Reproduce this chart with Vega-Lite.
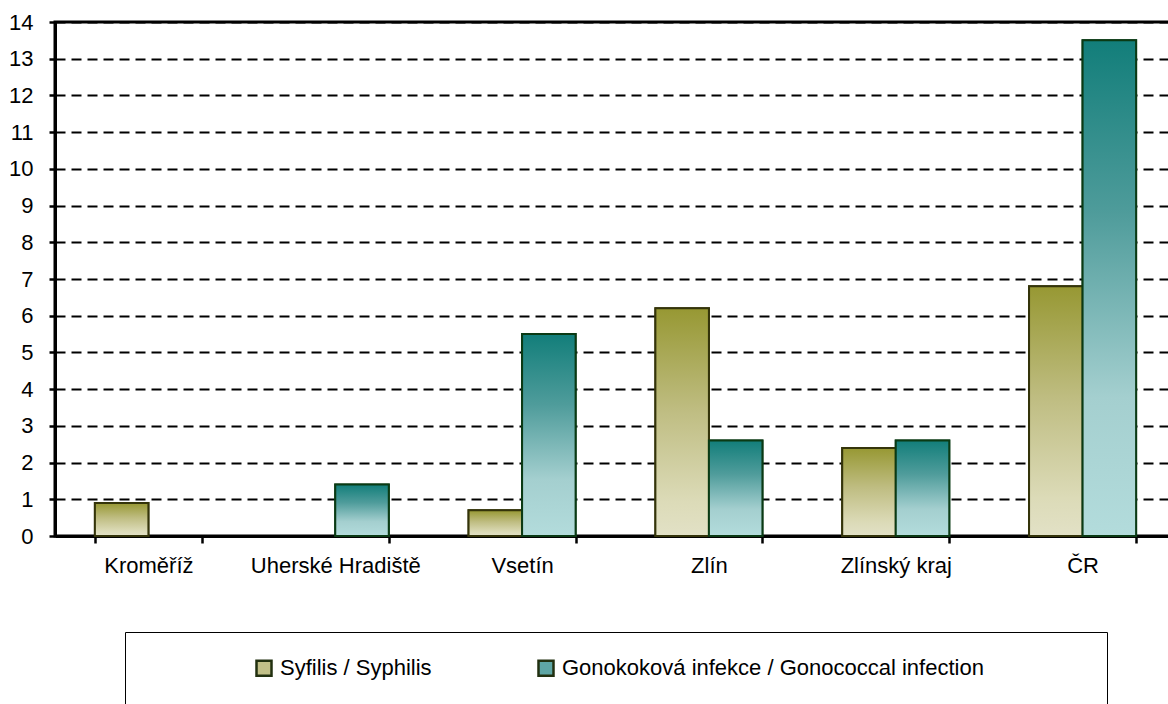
{
  "$schema": "https://vega.github.io/schema/vega-lite/v6.json",
  "autosize": {"type": "none"},
  "padding": {"left": 55, "top": 22, "right": 0, "bottom": 168},
  "width": 1121,
  "height": 514,
  "background": "white",
  "config": {
    "view": {"stroke": "black", "strokeWidth": 3},
    "font": "Liberation Sans",
    "axis": {"labelFont": "Liberation Sans", "labelColor": "black"}
  },
  "data": {
    "values": [
      {"region": "Kroměříž", "series": "Syfilis / Syphilis", "value": 0.9},
      {"region": "Kroměříž", "series": "Gonokoková infekce / Gonococcal infection", "value": 0},
      {"region": "Uherské Hradiště", "series": "Syfilis / Syphilis", "value": 0},
      {"region": "Uherské Hradiště", "series": "Gonokoková infekce / Gonococcal infection", "value": 1.4},
      {"region": "Vsetín", "series": "Syfilis / Syphilis", "value": 0.7},
      {"region": "Vsetín", "series": "Gonokoková infekce / Gonococcal infection", "value": 5.5},
      {"region": "Zlín", "series": "Syfilis / Syphilis", "value": 6.2},
      {"region": "Zlín", "series": "Gonokoková infekce / Gonococcal infection", "value": 2.6},
      {"region": "Zlínský kraj", "series": "Syfilis / Syphilis", "value": 2.4},
      {"region": "Zlínský kraj", "series": "Gonokoková infekce / Gonococcal infection", "value": 2.6},
      {"region": "ČR", "series": "Syfilis / Syphilis", "value": 6.8},
      {"region": "ČR", "series": "Gonokoková infekce / Gonococcal infection", "value": 13.5}
    ]
  },
  "transform": [{"filter": "datum.value > 0"}],
  "encoding": {
    "x": {
      "field": "region", "type": "nominal",
      "sort": ["Kroměříž", "Uherské Hradiště", "Vsetín", "Zlín", "Zlínský kraj", "ČR"],
      "scale": {"paddingInner": 0.427, "paddingOuter": 0.2135},
      "axis": {
        "title": null, "labelAngle": 0, "labelFontSize": 22, "labelPadding": 12,
        "tickBand": "extent", "tickSize": 7, "tickWidth": 2.5, "tickColor": "black",
        "domainColor": "black", "domainWidth": 3, "grid": false
      }
    },
    "xOffset": {
      "field": "series", "type": "nominal",
      "sort": ["Syfilis / Syphilis", "Gonokoková infekce / Gonococcal infection"]
    },
    "y": {
      "field": "value", "type": "quantitative",
      "scale": {"domain": [0, 14], "nice": false},
      "axis": {
        "title": null, "values": [0,1,2,3,4,5,6,7,8,9,10,11,12,13,14],
        "labelFontSize": 22, "labelPadding": 16,
        "tickSize": 6, "tickWidth": 2.5, "tickColor": "black",
        "domainColor": "black", "domainWidth": 3,
        "grid": true, "gridColor": "black", "gridWidth": 2.2, "gridDash": [10, 6]
      }
    }
  },
  "layer": [
    {
      "mark": {"type": "bar", "strokeWidth": 2},
      "encoding": {
        "fill": {
          "field": "series", "type": "nominal",
          "sort": ["Syfilis / Syphilis", "Gonokoková infekce / Gonococcal infection"],
          "scale": {"range": ["#c2c088", "#5ea6a5"]},
          "legend": {
            "title": null, "orient": "none", "legendX": 70, "legendY": 610,
            "direction": "horizontal", "padding": 25,
            "strokeColor": "black", "fillColor": "white",
            "symbolType": "square", "symbolSize": 225, "symbolStrokeWidth": 2.5,
            "symbolStrokeColor": "#223010",
            "symbolOffset": 103, "labelOffset": 5, "columnPadding": 0,
            "labelFont": "Liberation Sans", "labelFontSize": 22, "labelColor": "black", "labelLimit": 700,
            "labelExpr": "datum.index == 1 ? datum.label + '\u00a0\u00a0\u00a0\u00a0\u00a0\u00a0\u00a0\u00a0\u00a0\u00a0\u00a0\u00a0\u00a0\u00a0\u00a0\u00a0\u200b' : datum.label",
            "encoding": {
              "symbols": {
                "update": {
                  "stroke": [
                    {"test": "datum.value === 'Syfilis / Syphilis'", "value": "#34340a"},
                    {"value": "#0a3a14"}
                  ]
                }
              }
            }
          }
        },
        "stroke": {
          "field": "series", "type": "nominal",
          "sort": ["Syfilis / Syphilis", "Gonokoková infekce / Gonococcal infection"],
          "scale": {"range": ["#34340a", "#0a3a14"]},
          "legend": null
        }
      }
    },
    {
      "transform": [{"filter": "datum.series == 'Syfilis / Syphilis'"}],
      "mark": {
        "type": "bar", "stroke": "#34340a", "strokeWidth": 2,
        "fill": {
          "gradient": "linear", "x1": 0, "y1": 0, "x2": 0, "y2": 1,
          "stops": [
            {"offset": 0, "color": "#979833"},
            {"offset": 0.45, "color": "#bfbd82"},
            {"offset": 0.85, "color": "#dcdbb8"},
            {"offset": 1, "color": "#e2e1c6"}
          ]
        }
      }
    },
    {
      "transform": [{"filter": "datum.series == 'Gonokoková infekce / Gonococcal infection'"}],
      "mark": {
        "type": "bar", "stroke": "#0a3a14", "strokeWidth": 2,
        "fill": {
          "gradient": "linear", "x1": 0, "y1": 0, "x2": 0, "y2": 1,
          "stops": [
            {"offset": 0, "color": "#127e7a"},
            {"offset": 0.35, "color": "#4f9c9b"},
            {"offset": 0.72, "color": "#a4cfcf"},
            {"offset": 1, "color": "#b3dcdc"}
          ]
        }
      }
    }
  ]
}
